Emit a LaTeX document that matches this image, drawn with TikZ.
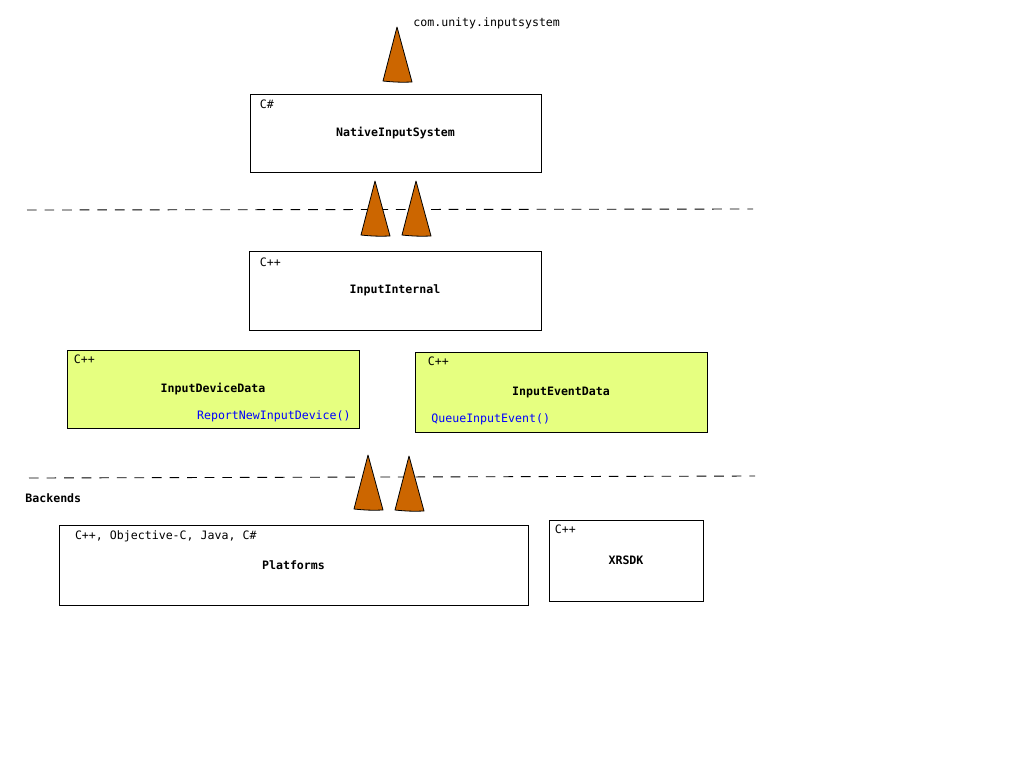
\documentclass[tikz,border=0pt]{standalone}
\usepackage{fontspec}
\setmainfont{DejaVu Sans Mono}
\definecolor{datafill}{HTML}{E6FF80}
\definecolor{wedgefill}{HTML}{CC6600}
\tikzset{
  layer/.style={draw, line width=0.45pt, inner sep=0pt, font=\fontsize{6.6}{8}\selectfont\bfseries},
  datalayer/.style={layer, fill=datafill},
  lang/.style={anchor=north west, inner sep=0pt},
  call/.style={text=blue, inner sep=0pt},
  wedge/.style={draw, fill=wedgefill, line width=0.45pt, line join=round},
  divider/.style={line width=0.5pt, dash pattern=on 5.5pt off 4.5pt}
}
\begin{document}
\begin{tikzpicture}[x=0.02cm, y=-0.02cm, font=\fontsize{6.6}{8}\selectfont]
    \useasboundingbox (0,0) rectangle (1024,768);
    % package name
    \node[anchor=west, inner sep=0pt] (pkg) at (413,23) {com.unity.inputsystem};
    % managed side
    \node[layer, minimum width=5.82cm, minimum height=1.56cm] (nis) at (395.5,133) {NativeInputSystem};
    \node[lang] (nislang) at ([shift={(10,6)}]nis.north west) {C\#};
    \draw[divider] (27,210) -- (753,209);
    % native side
    \node[layer, minimum width=5.84cm, minimum height=1.58cm] (internal) at (395,290.5) {InputInternal};
    \node[lang] (internallang) at ([shift={(11,7)}]internal.north west) {C++};
    \node[datalayer, minimum width=5.84cm, minimum height=1.56cm] (devdata) at (213,389) {InputDeviceData};
    \node[lang] (devdatalang) at ([shift={(7,5)}]devdata.north west) {C++};
    \node[call, anchor=east] (report) at (351,416) {ReportNewInputDevice()};
    \node[datalayer, minimum width=5.84cm, minimum height=1.6cm] (evdata) at (561,392) {InputEventData};
    \node[lang] (evdatalang) at ([shift={(13,5)}]evdata.north west) {C++};
    \node[call, anchor=west] (queue) at (431,419) {QueueInputEvent()};
    \draw[divider] (29,478) -- (755,476);
    % backends
    \node[anchor=west, inner sep=0pt, font=\fontsize{6.6}{8}\selectfont\bfseries] (backends) at (25,498) {Backends};
    \node[layer, minimum width=9.38cm, minimum height=1.6cm] (platforms) at (293.5,565) {Platforms};
    \node[lang] (platformslang) at ([shift={(16,6)}]platforms.north west) {C++, Objective-C, Java, C\#};
    \node[layer, minimum width=3.08cm, minimum height=1.62cm] (xrsdk) at (626,560.5) {XRSDK};
    \node[lang] (xrsdklang) at ([shift={(6,5)}]xrsdk.north west) {C++};
    % upward wedges
    \foreach \x/\y in {397/27, 375/181, 416/181, 368/455, 409/456} {
        \draw[wedge] (\x,\y) -- (\x+15,\y+55) to[bend left=4] (\x-14,\y+54) -- cycle;
    }
\end{tikzpicture}
\end{document}
